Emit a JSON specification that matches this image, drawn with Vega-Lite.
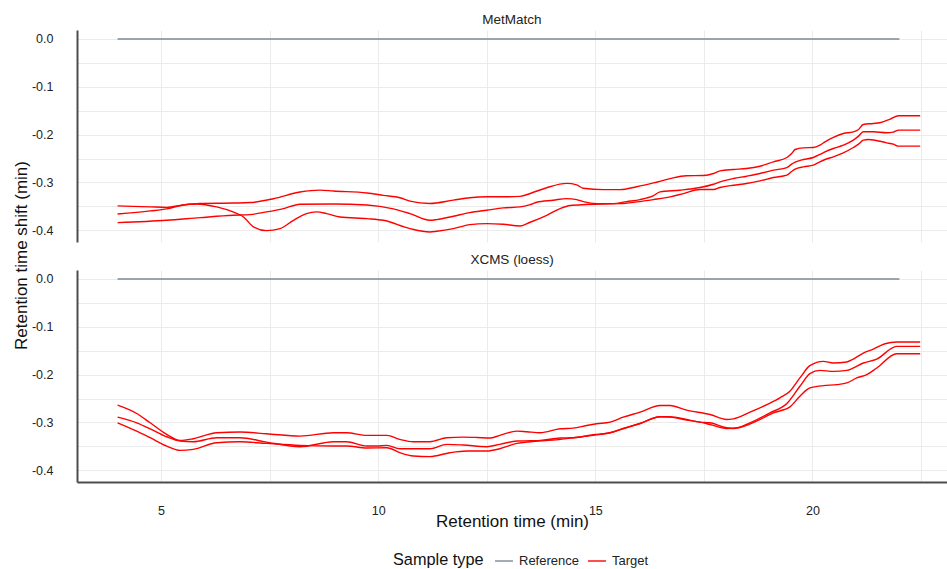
{
  "$schema": "https://vega.github.io/schema/vega-lite/v6.json",
  "padding": {"left": 12, "top": 12, "right": 0, "bottom": 0},
  "autosize": {"type": "pad"},
  "bounds": "flush",
  "spacing": 28,
  "config": {
    "font": "Liberation Sans",
    "view": {"stroke": null},
    "axis": {
      "gridColor": "#ebebeb",
      "gridWidth": 1,
      "ticks": false,
      "labelFontSize": 12.5,
      "labelColor": "#222222",
      "titleFontSize": 17,
      "titleFontWeight": "normal",
      "titleColor": "#111111",
      "domainColor": "#4d4d4d",
      "domainWidth": 2
    },
    "title": {"fontSize": 13.5, "fontWeight": "normal", "color": "#222222", "offset": 4, "anchor": "middle"},
    "line": {"interpolate": "monotone", "strokeWidth": 1.4}
  },
  "datasets": {
    "shifts": [
      {"panel": "MetMatch", "type": "Reference", "sample": "R", "rt": 4.0, "shift": 0},
      {"panel": "MetMatch", "type": "Reference", "sample": "R", "rt": 22.0, "shift": 0},
      {"panel": "XCMS (loess)", "type": "Reference", "sample": "R", "rt": 4.0, "shift": 0},
      {"panel": "XCMS (loess)", "type": "Reference", "sample": "R", "rt": 22.0, "shift": 0},

      {"panel": "MetMatch", "type": "Target", "sample": "T1", "rt": 4.0, "shift": -0.349},
      {"panel": "MetMatch", "type": "Target", "sample": "T1", "rt": 4.75, "shift": -0.351},
      {"panel": "MetMatch", "type": "Target", "sample": "T1", "rt": 5.13, "shift": -0.352},
      {"panel": "MetMatch", "type": "Target", "sample": "T1", "rt": 5.51, "shift": -0.347},
      {"panel": "MetMatch", "type": "Target", "sample": "T1", "rt": 5.9, "shift": -0.344},
      {"panel": "MetMatch", "type": "Target", "sample": "T1", "rt": 6.66, "shift": -0.343},
      {"panel": "MetMatch", "type": "Target", "sample": "T1", "rt": 7.05, "shift": -0.342},
      {"panel": "MetMatch", "type": "Target", "sample": "T1", "rt": 7.59, "shift": -0.334},
      {"panel": "MetMatch", "type": "Target", "sample": "T1", "rt": 8.2, "shift": -0.32},
      {"panel": "MetMatch", "type": "Target", "sample": "T1", "rt": 8.66, "shift": -0.316},
      {"panel": "MetMatch", "type": "Target", "sample": "T1", "rt": 8.97, "shift": -0.318},
      {"panel": "MetMatch", "type": "Target", "sample": "T1", "rt": 9.74, "shift": -0.322},
      {"panel": "MetMatch", "type": "Target", "sample": "T1", "rt": 10.12, "shift": -0.327},
      {"panel": "MetMatch", "type": "Target", "sample": "T1", "rt": 10.5, "shift": -0.332},
      {"panel": "MetMatch", "type": "Target", "sample": "T1", "rt": 10.73, "shift": -0.339},
      {"panel": "MetMatch", "type": "Target", "sample": "T1", "rt": 11.19, "shift": -0.344},
      {"panel": "MetMatch", "type": "Target", "sample": "T1", "rt": 11.73, "shift": -0.337},
      {"panel": "MetMatch", "type": "Target", "sample": "T1", "rt": 12.11, "shift": -0.332},
      {"panel": "MetMatch", "type": "Target", "sample": "T1", "rt": 12.5, "shift": -0.33},
      {"panel": "MetMatch", "type": "Target", "sample": "T1", "rt": 12.88, "shift": -0.33},
      {"panel": "MetMatch", "type": "Target", "sample": "T1", "rt": 13.27, "shift": -0.329},
      {"panel": "MetMatch", "type": "Target", "sample": "T1", "rt": 13.5, "shift": -0.323},
      {"panel": "MetMatch", "type": "Target", "sample": "T1", "rt": 13.88, "shift": -0.311},
      {"panel": "MetMatch", "type": "Target", "sample": "T1", "rt": 14.34, "shift": -0.302},
      {"panel": "MetMatch", "type": "Target", "sample": "T1", "rt": 14.57, "shift": -0.305},
      {"panel": "MetMatch", "type": "Target", "sample": "T1", "rt": 14.72, "shift": -0.312},
      {"panel": "MetMatch", "type": "Target", "sample": "T1", "rt": 15.18, "shift": -0.315},
      {"panel": "MetMatch", "type": "Target", "sample": "T1", "rt": 15.57, "shift": -0.315},
      {"panel": "MetMatch", "type": "Target", "sample": "T1", "rt": 15.95, "shift": -0.309},
      {"panel": "MetMatch", "type": "Target", "sample": "T1", "rt": 16.34, "shift": -0.301},
      {"panel": "MetMatch", "type": "Target", "sample": "T1", "rt": 16.72, "shift": -0.292},
      {"panel": "MetMatch", "type": "Target", "sample": "T1", "rt": 17.1, "shift": -0.286},
      {"panel": "MetMatch", "type": "Target", "sample": "T1", "rt": 17.49, "shift": -0.2855},
      {"panel": "MetMatch", "type": "Target", "sample": "T1", "rt": 17.72, "shift": -0.2813},
      {"panel": "MetMatch", "type": "Target", "sample": "T1", "rt": 17.87, "shift": -0.2757},
      {"panel": "MetMatch", "type": "Target", "sample": "T1", "rt": 18.18, "shift": -0.2729},
      {"panel": "MetMatch", "type": "Target", "sample": "T1", "rt": 18.48, "shift": -0.2709},
      {"panel": "MetMatch", "type": "Target", "sample": "T1", "rt": 18.79, "shift": -0.266},
      {"panel": "MetMatch", "type": "Target", "sample": "T1", "rt": 19.1, "shift": -0.2569},
      {"panel": "MetMatch", "type": "Target", "sample": "T1", "rt": 19.41, "shift": -0.2478},
      {"panel": "MetMatch", "type": "Target", "sample": "T1", "rt": 19.52, "shift": -0.2394},
      {"panel": "MetMatch", "type": "Target", "sample": "T1", "rt": 19.6, "shift": -0.2311},
      {"panel": "MetMatch", "type": "Target", "sample": "T1", "rt": 19.79, "shift": -0.2276},
      {"panel": "MetMatch", "type": "Target", "sample": "T1", "rt": 20.02, "shift": -0.2269},
      {"panel": "MetMatch", "type": "Target", "sample": "T1", "rt": 20.17, "shift": -0.222},
      {"panel": "MetMatch", "type": "Target", "sample": "T1", "rt": 20.29, "shift": -0.215},
      {"panel": "MetMatch", "type": "Target", "sample": "T1", "rt": 20.48, "shift": -0.2059},
      {"panel": "MetMatch", "type": "Target", "sample": "T1", "rt": 20.71, "shift": -0.1976},
      {"panel": "MetMatch", "type": "Target", "sample": "T1", "rt": 20.94, "shift": -0.1941},
      {"panel": "MetMatch", "type": "Target", "sample": "T1", "rt": 21.06, "shift": -0.1892},
      {"panel": "MetMatch", "type": "Target", "sample": "T1", "rt": 21.17, "shift": -0.1787},
      {"panel": "MetMatch", "type": "Target", "sample": "T1", "rt": 21.4, "shift": -0.1766},
      {"panel": "MetMatch", "type": "Target", "sample": "T1", "rt": 21.55, "shift": -0.1752},
      {"panel": "MetMatch", "type": "Target", "sample": "T1", "rt": 21.79, "shift": -0.1675},
      {"panel": "MetMatch", "type": "Target", "sample": "T1", "rt": 21.98, "shift": -0.1606},
      {"panel": "MetMatch", "type": "Target", "sample": "T1", "rt": 22.48, "shift": -0.1606},

      {"panel": "MetMatch", "type": "Target", "sample": "T2", "rt": 4.0, "shift": -0.384},
      {"panel": "MetMatch", "type": "Target", "sample": "T2", "rt": 5.13, "shift": -0.379},
      {"panel": "MetMatch", "type": "Target", "sample": "T2", "rt": 5.9, "shift": -0.3735},
      {"panel": "MetMatch", "type": "Target", "sample": "T2", "rt": 6.66, "shift": -0.3686},
      {"panel": "MetMatch", "type": "Target", "sample": "T2", "rt": 7.05, "shift": -0.3672},
      {"panel": "MetMatch", "type": "Target", "sample": "T2", "rt": 7.43, "shift": -0.3616},
      {"panel": "MetMatch", "type": "Target", "sample": "T2", "rt": 7.82, "shift": -0.3546},
      {"panel": "MetMatch", "type": "Target", "sample": "T2", "rt": 8.2, "shift": -0.3455},
      {"panel": "MetMatch", "type": "Target", "sample": "T2", "rt": 8.97, "shift": -0.3449},
      {"panel": "MetMatch", "type": "Target", "sample": "T2", "rt": 9.74, "shift": -0.347},
      {"panel": "MetMatch", "type": "Target", "sample": "T2", "rt": 10.35, "shift": -0.3553},
      {"panel": "MetMatch", "type": "Target", "sample": "T2", "rt": 10.73, "shift": -0.3651},
      {"panel": "MetMatch", "type": "Target", "sample": "T2", "rt": 11.19, "shift": -0.3791},
      {"panel": "MetMatch", "type": "Target", "sample": "T2", "rt": 11.35, "shift": -0.3777},
      {"panel": "MetMatch", "type": "Target", "sample": "T2", "rt": 11.73, "shift": -0.3707},
      {"panel": "MetMatch", "type": "Target", "sample": "T2", "rt": 12.11, "shift": -0.363},
      {"panel": "MetMatch", "type": "Target", "sample": "T2", "rt": 12.5, "shift": -0.3581},
      {"panel": "MetMatch", "type": "Target", "sample": "T2", "rt": 12.88, "shift": -0.3532},
      {"panel": "MetMatch", "type": "Target", "sample": "T2", "rt": 13.27, "shift": -0.3511},
      {"panel": "MetMatch", "type": "Target", "sample": "T2", "rt": 13.5, "shift": -0.3462},
      {"panel": "MetMatch", "type": "Target", "sample": "T2", "rt": 13.65, "shift": -0.3414},
      {"panel": "MetMatch", "type": "Target", "sample": "T2", "rt": 14.03, "shift": -0.3372},
      {"panel": "MetMatch", "type": "Target", "sample": "T2", "rt": 14.34, "shift": -0.3337},
      {"panel": "MetMatch", "type": "Target", "sample": "T2", "rt": 14.57, "shift": -0.3358},
      {"panel": "MetMatch", "type": "Target", "sample": "T2", "rt": 14.72, "shift": -0.34},
      {"panel": "MetMatch", "type": "Target", "sample": "T2", "rt": 15.03, "shift": -0.3442},
      {"panel": "MetMatch", "type": "Target", "sample": "T2", "rt": 15.41, "shift": -0.3442},
      {"panel": "MetMatch", "type": "Target", "sample": "T2", "rt": 15.72, "shift": -0.34},
      {"panel": "MetMatch", "type": "Target", "sample": "T2", "rt": 16.03, "shift": -0.3358},
      {"panel": "MetMatch", "type": "Target", "sample": "T2", "rt": 16.34, "shift": -0.3274},
      {"panel": "MetMatch", "type": "Target", "sample": "T2", "rt": 16.49, "shift": -0.3197},
      {"panel": "MetMatch", "type": "Target", "sample": "T2", "rt": 16.95, "shift": -0.3162},
      {"panel": "MetMatch", "type": "Target", "sample": "T2", "rt": 17.41, "shift": -0.3106},
      {"panel": "MetMatch", "type": "Target", "sample": "T2", "rt": 17.72, "shift": -0.3037},
      {"panel": "MetMatch", "type": "Target", "sample": "T2", "rt": 17.87, "shift": -0.2988},
      {"panel": "MetMatch", "type": "Target", "sample": "T2", "rt": 18.18, "shift": -0.2918},
      {"panel": "MetMatch", "type": "Target", "sample": "T2", "rt": 18.48, "shift": -0.2869},
      {"panel": "MetMatch", "type": "Target", "sample": "T2", "rt": 18.79, "shift": -0.2813},
      {"panel": "MetMatch", "type": "Target", "sample": "T2", "rt": 19.1, "shift": -0.2743},
      {"panel": "MetMatch", "type": "Target", "sample": "T2", "rt": 19.41, "shift": -0.2688},
      {"panel": "MetMatch", "type": "Target", "sample": "T2", "rt": 19.52, "shift": -0.2618},
      {"panel": "MetMatch", "type": "Target", "sample": "T2", "rt": 19.6, "shift": -0.2576},
      {"panel": "MetMatch", "type": "Target", "sample": "T2", "rt": 19.79, "shift": -0.252},
      {"panel": "MetMatch", "type": "Target", "sample": "T2", "rt": 20.02, "shift": -0.2478},
      {"panel": "MetMatch", "type": "Target", "sample": "T2", "rt": 20.17, "shift": -0.2415},
      {"panel": "MetMatch", "type": "Target", "sample": "T2", "rt": 20.29, "shift": -0.236},
      {"panel": "MetMatch", "type": "Target", "sample": "T2", "rt": 20.48, "shift": -0.229},
      {"panel": "MetMatch", "type": "Target", "sample": "T2", "rt": 20.71, "shift": -0.222},
      {"panel": "MetMatch", "type": "Target", "sample": "T2", "rt": 20.94, "shift": -0.2115},
      {"panel": "MetMatch", "type": "Target", "sample": "T2", "rt": 21.06, "shift": -0.2031},
      {"panel": "MetMatch", "type": "Target", "sample": "T2", "rt": 21.17, "shift": -0.1941},
      {"panel": "MetMatch", "type": "Target", "sample": "T2", "rt": 21.4, "shift": -0.1941},
      {"panel": "MetMatch", "type": "Target", "sample": "T2", "rt": 21.71, "shift": -0.1962},
      {"panel": "MetMatch", "type": "Target", "sample": "T2", "rt": 21.86, "shift": -0.1948},
      {"panel": "MetMatch", "type": "Target", "sample": "T2", "rt": 21.98, "shift": -0.1906},
      {"panel": "MetMatch", "type": "Target", "sample": "T2", "rt": 22.48, "shift": -0.1906},

      {"panel": "MetMatch", "type": "Target", "sample": "T3", "rt": 4.0, "shift": -0.366},
      {"panel": "MetMatch", "type": "Target", "sample": "T3", "rt": 4.75, "shift": -0.3595},
      {"panel": "MetMatch", "type": "Target", "sample": "T3", "rt": 5.13, "shift": -0.3553},
      {"panel": "MetMatch", "type": "Target", "sample": "T3", "rt": 5.51, "shift": -0.347},
      {"panel": "MetMatch", "type": "Target", "sample": "T3", "rt": 5.82, "shift": -0.3449},
      {"panel": "MetMatch", "type": "Target", "sample": "T3", "rt": 6.28, "shift": -0.3511},
      {"panel": "MetMatch", "type": "Target", "sample": "T3", "rt": 6.66, "shift": -0.3616},
      {"panel": "MetMatch", "type": "Target", "sample": "T3", "rt": 6.9, "shift": -0.3721},
      {"panel": "MetMatch", "type": "Target", "sample": "T3", "rt": 7.13, "shift": -0.393},
      {"panel": "MetMatch", "type": "Target", "sample": "T3", "rt": 7.43, "shift": -0.4007},
      {"panel": "MetMatch", "type": "Target", "sample": "T3", "rt": 7.74, "shift": -0.3965},
      {"panel": "MetMatch", "type": "Target", "sample": "T3", "rt": 8.05, "shift": -0.3791},
      {"panel": "MetMatch", "type": "Target", "sample": "T3", "rt": 8.35, "shift": -0.3651},
      {"panel": "MetMatch", "type": "Target", "sample": "T3", "rt": 8.58, "shift": -0.3616},
      {"panel": "MetMatch", "type": "Target", "sample": "T3", "rt": 8.81, "shift": -0.3651},
      {"panel": "MetMatch", "type": "Target", "sample": "T3", "rt": 9.12, "shift": -0.3721},
      {"panel": "MetMatch", "type": "Target", "sample": "T3", "rt": 9.74, "shift": -0.3756},
      {"panel": "MetMatch", "type": "Target", "sample": "T3", "rt": 10.12, "shift": -0.3791},
      {"panel": "MetMatch", "type": "Target", "sample": "T3", "rt": 10.73, "shift": -0.3965},
      {"panel": "MetMatch", "type": "Target", "sample": "T3", "rt": 11.19, "shift": -0.4035},
      {"panel": "MetMatch", "type": "Target", "sample": "T3", "rt": 11.35, "shift": -0.4021},
      {"panel": "MetMatch", "type": "Target", "sample": "T3", "rt": 11.73, "shift": -0.3965},
      {"panel": "MetMatch", "type": "Target", "sample": "T3", "rt": 12.11, "shift": -0.3881},
      {"panel": "MetMatch", "type": "Target", "sample": "T3", "rt": 12.5, "shift": -0.386},
      {"panel": "MetMatch", "type": "Target", "sample": "T3", "rt": 12.88, "shift": -0.3874},
      {"panel": "MetMatch", "type": "Target", "sample": "T3", "rt": 13.27, "shift": -0.3909},
      {"panel": "MetMatch", "type": "Target", "sample": "T3", "rt": 13.5, "shift": -0.3832},
      {"panel": "MetMatch", "type": "Target", "sample": "T3", "rt": 13.88, "shift": -0.3686},
      {"panel": "MetMatch", "type": "Target", "sample": "T3", "rt": 14.19, "shift": -0.3546},
      {"panel": "MetMatch", "type": "Target", "sample": "T3", "rt": 14.42, "shift": -0.3483},
      {"panel": "MetMatch", "type": "Target", "sample": "T3", "rt": 14.8, "shift": -0.3462},
      {"panel": "MetMatch", "type": "Target", "sample": "T3", "rt": 15.18, "shift": -0.3449},
      {"panel": "MetMatch", "type": "Target", "sample": "T3", "rt": 15.57, "shift": -0.3442},
      {"panel": "MetMatch", "type": "Target", "sample": "T3", "rt": 15.95, "shift": -0.3407},
      {"panel": "MetMatch", "type": "Target", "sample": "T3", "rt": 16.34, "shift": -0.3358},
      {"panel": "MetMatch", "type": "Target", "sample": "T3", "rt": 16.72, "shift": -0.3302},
      {"panel": "MetMatch", "type": "Target", "sample": "T3", "rt": 17.03, "shift": -0.3232},
      {"panel": "MetMatch", "type": "Target", "sample": "T3", "rt": 17.41, "shift": -0.3148},
      {"panel": "MetMatch", "type": "Target", "sample": "T3", "rt": 17.72, "shift": -0.3148},
      {"panel": "MetMatch", "type": "Target", "sample": "T3", "rt": 17.87, "shift": -0.3106},
      {"panel": "MetMatch", "type": "Target", "sample": "T3", "rt": 18.18, "shift": -0.3058},
      {"panel": "MetMatch", "type": "Target", "sample": "T3", "rt": 18.48, "shift": -0.3023},
      {"panel": "MetMatch", "type": "Target", "sample": "T3", "rt": 18.79, "shift": -0.2967},
      {"panel": "MetMatch", "type": "Target", "sample": "T3", "rt": 19.1, "shift": -0.2897},
      {"panel": "MetMatch", "type": "Target", "sample": "T3", "rt": 19.41, "shift": -0.2848},
      {"panel": "MetMatch", "type": "Target", "sample": "T3", "rt": 19.52, "shift": -0.2771},
      {"panel": "MetMatch", "type": "Target", "sample": "T3", "rt": 19.6, "shift": -0.2723},
      {"panel": "MetMatch", "type": "Target", "sample": "T3", "rt": 19.79, "shift": -0.2674},
      {"panel": "MetMatch", "type": "Target", "sample": "T3", "rt": 20.02, "shift": -0.2639},
      {"panel": "MetMatch", "type": "Target", "sample": "T3", "rt": 20.17, "shift": -0.2569},
      {"panel": "MetMatch", "type": "Target", "sample": "T3", "rt": 20.29, "shift": -0.252},
      {"panel": "MetMatch", "type": "Target", "sample": "T3", "rt": 20.48, "shift": -0.2464},
      {"panel": "MetMatch", "type": "Target", "sample": "T3", "rt": 20.71, "shift": -0.2381},
      {"panel": "MetMatch", "type": "Target", "sample": "T3", "rt": 20.94, "shift": -0.2269},
      {"panel": "MetMatch", "type": "Target", "sample": "T3", "rt": 21.06, "shift": -0.2199},
      {"panel": "MetMatch", "type": "Target", "sample": "T3", "rt": 21.17, "shift": -0.2115},
      {"panel": "MetMatch", "type": "Target", "sample": "T3", "rt": 21.29, "shift": -0.2101},
      {"panel": "MetMatch", "type": "Target", "sample": "T3", "rt": 21.71, "shift": -0.2171},
      {"panel": "MetMatch", "type": "Target", "sample": "T3", "rt": 21.86, "shift": -0.2199},
      {"panel": "MetMatch", "type": "Target", "sample": "T3", "rt": 21.98, "shift": -0.2241},
      {"panel": "MetMatch", "type": "Target", "sample": "T3", "rt": 22.48, "shift": -0.2241},

      {"panel": "XCMS (loess)", "type": "Target", "sample": "T1", "rt": 4.0, "shift": -0.2639},
      {"panel": "XCMS (loess)", "type": "Target", "sample": "T1", "rt": 4.44, "shift": -0.2813},
      {"panel": "XCMS (loess)", "type": "Target", "sample": "T1", "rt": 4.75, "shift": -0.3007},
      {"panel": "XCMS (loess)", "type": "Target", "sample": "T1", "rt": 5.13, "shift": -0.325},
      {"panel": "XCMS (loess)", "type": "Target", "sample": "T1", "rt": 5.44, "shift": -0.3375},
      {"panel": "XCMS (loess)", "type": "Target", "sample": "T1", "rt": 5.74, "shift": -0.334},
      {"panel": "XCMS (loess)", "type": "Target", "sample": "T1", "rt": 6.28, "shift": -0.3215},
      {"panel": "XCMS (loess)", "type": "Target", "sample": "T1", "rt": 6.82, "shift": -0.3201},
      {"panel": "XCMS (loess)", "type": "Target", "sample": "T1", "rt": 7.43, "shift": -0.3236},
      {"panel": "XCMS (loess)", "type": "Target", "sample": "T1", "rt": 8.2, "shift": -0.3285},
      {"panel": "XCMS (loess)", "type": "Target", "sample": "T1", "rt": 8.97, "shift": -0.3215},
      {"panel": "XCMS (loess)", "type": "Target", "sample": "T1", "rt": 9.27, "shift": -0.3215},
      {"panel": "XCMS (loess)", "type": "Target", "sample": "T1", "rt": 9.74, "shift": -0.3271},
      {"panel": "XCMS (loess)", "type": "Target", "sample": "T1", "rt": 10.2, "shift": -0.3271},
      {"panel": "XCMS (loess)", "type": "Target", "sample": "T1", "rt": 10.5, "shift": -0.3354},
      {"panel": "XCMS (loess)", "type": "Target", "sample": "T1", "rt": 10.81, "shift": -0.3403},
      {"panel": "XCMS (loess)", "type": "Target", "sample": "T1", "rt": 11.19, "shift": -0.3403},
      {"panel": "XCMS (loess)", "type": "Target", "sample": "T1", "rt": 11.58, "shift": -0.3319},
      {"panel": "XCMS (loess)", "type": "Target", "sample": "T1", "rt": 11.96, "shift": -0.3306},
      {"panel": "XCMS (loess)", "type": "Target", "sample": "T1", "rt": 12.27, "shift": -0.3313},
      {"panel": "XCMS (loess)", "type": "Target", "sample": "T1", "rt": 12.57, "shift": -0.3326},
      {"panel": "XCMS (loess)", "type": "Target", "sample": "T1", "rt": 12.8, "shift": -0.3271},
      {"panel": "XCMS (loess)", "type": "Target", "sample": "T1", "rt": 13.19, "shift": -0.3181},
      {"panel": "XCMS (loess)", "type": "Target", "sample": "T1", "rt": 13.42, "shift": -0.3194},
      {"panel": "XCMS (loess)", "type": "Target", "sample": "T1", "rt": 13.73, "shift": -0.3215},
      {"panel": "XCMS (loess)", "type": "Target", "sample": "T1", "rt": 14.19, "shift": -0.3132},
      {"panel": "XCMS (loess)", "type": "Target", "sample": "T1", "rt": 14.49, "shift": -0.3118},
      {"panel": "XCMS (loess)", "type": "Target", "sample": "T1", "rt": 14.8, "shift": -0.3063},
      {"panel": "XCMS (loess)", "type": "Target", "sample": "T1", "rt": 15.03, "shift": -0.3028},
      {"panel": "XCMS (loess)", "type": "Target", "sample": "T1", "rt": 15.34, "shift": -0.2993},
      {"panel": "XCMS (loess)", "type": "Target", "sample": "T1", "rt": 15.64, "shift": -0.2889},
      {"panel": "XCMS (loess)", "type": "Target", "sample": "T1", "rt": 16.03, "shift": -0.2785},
      {"panel": "XCMS (loess)", "type": "Target", "sample": "T1", "rt": 16.49, "shift": -0.2646},
      {"panel": "XCMS (loess)", "type": "Target", "sample": "T1", "rt": 16.72, "shift": -0.2646},
      {"panel": "XCMS (loess)", "type": "Target", "sample": "T1", "rt": 17.1, "shift": -0.2743},
      {"panel": "XCMS (loess)", "type": "Target", "sample": "T1", "rt": 17.64, "shift": -0.2833},
      {"panel": "XCMS (loess)", "type": "Target", "sample": "T1", "rt": 18.02, "shift": -0.2938},
      {"panel": "XCMS (loess)", "type": "Target", "sample": "T1", "rt": 18.18, "shift": -0.2924},
      {"panel": "XCMS (loess)", "type": "Target", "sample": "T1", "rt": 18.56, "shift": -0.2785},
      {"panel": "XCMS (loess)", "type": "Target", "sample": "T1", "rt": 18.95, "shift": -0.2625},
      {"panel": "XCMS (loess)", "type": "Target", "sample": "T1", "rt": 19.25, "shift": -0.2486},
      {"panel": "XCMS (loess)", "type": "Target", "sample": "T1", "rt": 19.48, "shift": -0.2347},
      {"panel": "XCMS (loess)", "type": "Target", "sample": "T1", "rt": 19.71, "shift": -0.2069},
      {"panel": "XCMS (loess)", "type": "Target", "sample": "T1", "rt": 19.94, "shift": -0.1813},
      {"panel": "XCMS (loess)", "type": "Target", "sample": "T1", "rt": 20.25, "shift": -0.1722},
      {"panel": "XCMS (loess)", "type": "Target", "sample": "T1", "rt": 20.48, "shift": -0.1757},
      {"panel": "XCMS (loess)", "type": "Target", "sample": "T1", "rt": 20.79, "shift": -0.1736},
      {"panel": "XCMS (loess)", "type": "Target", "sample": "T1", "rt": 20.94, "shift": -0.1674},
      {"panel": "XCMS (loess)", "type": "Target", "sample": "T1", "rt": 21.17, "shift": -0.1549},
      {"panel": "XCMS (loess)", "type": "Target", "sample": "T1", "rt": 21.4, "shift": -0.1465},
      {"panel": "XCMS (loess)", "type": "Target", "sample": "T1", "rt": 21.67, "shift": -0.1354},
      {"panel": "XCMS (loess)", "type": "Target", "sample": "T1", "rt": 21.94, "shift": -0.1319},
      {"panel": "XCMS (loess)", "type": "Target", "sample": "T1", "rt": 22.48, "shift": -0.1319},

      {"panel": "XCMS (loess)", "type": "Target", "sample": "T2", "rt": 4.0, "shift": -0.2889},
      {"panel": "XCMS (loess)", "type": "Target", "sample": "T2", "rt": 4.44, "shift": -0.3007},
      {"panel": "XCMS (loess)", "type": "Target", "sample": "T2", "rt": 4.75, "shift": -0.3132},
      {"panel": "XCMS (loess)", "type": "Target", "sample": "T2", "rt": 5.13, "shift": -0.3299},
      {"panel": "XCMS (loess)", "type": "Target", "sample": "T2", "rt": 5.44, "shift": -0.3389},
      {"panel": "XCMS (loess)", "type": "Target", "sample": "T2", "rt": 5.74, "shift": -0.3403},
      {"panel": "XCMS (loess)", "type": "Target", "sample": "T2", "rt": 6.28, "shift": -0.3319},
      {"panel": "XCMS (loess)", "type": "Target", "sample": "T2", "rt": 6.82, "shift": -0.3319},
      {"panel": "XCMS (loess)", "type": "Target", "sample": "T2", "rt": 7.43, "shift": -0.341},
      {"panel": "XCMS (loess)", "type": "Target", "sample": "T2", "rt": 8.2, "shift": -0.3507},
      {"panel": "XCMS (loess)", "type": "Target", "sample": "T2", "rt": 8.97, "shift": -0.3403},
      {"panel": "XCMS (loess)", "type": "Target", "sample": "T2", "rt": 9.27, "shift": -0.3403},
      {"panel": "XCMS (loess)", "type": "Target", "sample": "T2", "rt": 9.74, "shift": -0.3493},
      {"panel": "XCMS (loess)", "type": "Target", "sample": "T2", "rt": 9.97, "shift": -0.3493},
      {"panel": "XCMS (loess)", "type": "Target", "sample": "T2", "rt": 10.2, "shift": -0.3479},
      {"panel": "XCMS (loess)", "type": "Target", "sample": "T2", "rt": 10.5, "shift": -0.3549},
      {"panel": "XCMS (loess)", "type": "Target", "sample": "T2", "rt": 11.19, "shift": -0.3549},
      {"panel": "XCMS (loess)", "type": "Target", "sample": "T2", "rt": 11.58, "shift": -0.3458},
      {"panel": "XCMS (loess)", "type": "Target", "sample": "T2", "rt": 11.96, "shift": -0.3472},
      {"panel": "XCMS (loess)", "type": "Target", "sample": "T2", "rt": 12.5, "shift": -0.3507},
      {"panel": "XCMS (loess)", "type": "Target", "sample": "T2", "rt": 12.8, "shift": -0.3458},
      {"panel": "XCMS (loess)", "type": "Target", "sample": "T2", "rt": 13.19, "shift": -0.3389},
      {"panel": "XCMS (loess)", "type": "Target", "sample": "T2", "rt": 13.5, "shift": -0.3382},
      {"panel": "XCMS (loess)", "type": "Target", "sample": "T2", "rt": 13.73, "shift": -0.3375},
      {"panel": "XCMS (loess)", "type": "Target", "sample": "T2", "rt": 14.19, "shift": -0.3326},
      {"panel": "XCMS (loess)", "type": "Target", "sample": "T2", "rt": 14.49, "shift": -0.3319},
      {"panel": "XCMS (loess)", "type": "Target", "sample": "T2", "rt": 14.95, "shift": -0.3257},
      {"panel": "XCMS (loess)", "type": "Target", "sample": "T2", "rt": 15.34, "shift": -0.3215},
      {"panel": "XCMS (loess)", "type": "Target", "sample": "T2", "rt": 15.64, "shift": -0.3125},
      {"panel": "XCMS (loess)", "type": "Target", "sample": "T2", "rt": 16.03, "shift": -0.3021},
      {"panel": "XCMS (loess)", "type": "Target", "sample": "T2", "rt": 16.49, "shift": -0.2882},
      {"panel": "XCMS (loess)", "type": "Target", "sample": "T2", "rt": 16.72, "shift": -0.2882},
      {"panel": "XCMS (loess)", "type": "Target", "sample": "T2", "rt": 17.1, "shift": -0.2938},
      {"panel": "XCMS (loess)", "type": "Target", "sample": "T2", "rt": 17.41, "shift": -0.2993},
      {"panel": "XCMS (loess)", "type": "Target", "sample": "T2", "rt": 17.64, "shift": -0.3007},
      {"panel": "XCMS (loess)", "type": "Target", "sample": "T2", "rt": 18.02, "shift": -0.3111},
      {"panel": "XCMS (loess)", "type": "Target", "sample": "T2", "rt": 18.18, "shift": -0.3125},
      {"panel": "XCMS (loess)", "type": "Target", "sample": "T2", "rt": 18.56, "shift": -0.3007},
      {"panel": "XCMS (loess)", "type": "Target", "sample": "T2", "rt": 19.02, "shift": -0.2799},
      {"panel": "XCMS (loess)", "type": "Target", "sample": "T2", "rt": 19.41, "shift": -0.2604},
      {"panel": "XCMS (loess)", "type": "Target", "sample": "T2", "rt": 19.71, "shift": -0.2243},
      {"panel": "XCMS (loess)", "type": "Target", "sample": "T2", "rt": 19.94, "shift": -0.1979},
      {"panel": "XCMS (loess)", "type": "Target", "sample": "T2", "rt": 20.17, "shift": -0.191},
      {"panel": "XCMS (loess)", "type": "Target", "sample": "T2", "rt": 20.48, "shift": -0.1931},
      {"panel": "XCMS (loess)", "type": "Target", "sample": "T2", "rt": 20.79, "shift": -0.191},
      {"panel": "XCMS (loess)", "type": "Target", "sample": "T2", "rt": 21.17, "shift": -0.1757},
      {"panel": "XCMS (loess)", "type": "Target", "sample": "T2", "rt": 21.48, "shift": -0.1674},
      {"panel": "XCMS (loess)", "type": "Target", "sample": "T2", "rt": 21.94, "shift": -0.141},
      {"panel": "XCMS (loess)", "type": "Target", "sample": "T2", "rt": 22.48, "shift": -0.141},

      {"panel": "XCMS (loess)", "type": "Target", "sample": "T3", "rt": 4.0, "shift": -0.3007},
      {"panel": "XCMS (loess)", "type": "Target", "sample": "T3", "rt": 4.44, "shift": -0.3181},
      {"panel": "XCMS (loess)", "type": "Target", "sample": "T3", "rt": 4.75, "shift": -0.3319},
      {"panel": "XCMS (loess)", "type": "Target", "sample": "T3", "rt": 5.13, "shift": -0.3493},
      {"panel": "XCMS (loess)", "type": "Target", "sample": "T3", "rt": 5.44, "shift": -0.3583},
      {"panel": "XCMS (loess)", "type": "Target", "sample": "T3", "rt": 5.74, "shift": -0.3563},
      {"panel": "XCMS (loess)", "type": "Target", "sample": "T3", "rt": 6.28, "shift": -0.3424},
      {"panel": "XCMS (loess)", "type": "Target", "sample": "T3", "rt": 6.82, "shift": -0.3403},
      {"panel": "XCMS (loess)", "type": "Target", "sample": "T3", "rt": 7.43, "shift": -0.3438},
      {"panel": "XCMS (loess)", "type": "Target", "sample": "T3", "rt": 8.2, "shift": -0.3479},
      {"panel": "XCMS (loess)", "type": "Target", "sample": "T3", "rt": 8.97, "shift": -0.3493},
      {"panel": "XCMS (loess)", "type": "Target", "sample": "T3", "rt": 9.27, "shift": -0.3493},
      {"panel": "XCMS (loess)", "type": "Target", "sample": "T3", "rt": 9.74, "shift": -0.3535},
      {"panel": "XCMS (loess)", "type": "Target", "sample": "T3", "rt": 10.2, "shift": -0.3528},
      {"panel": "XCMS (loess)", "type": "Target", "sample": "T3", "rt": 10.5, "shift": -0.3632},
      {"panel": "XCMS (loess)", "type": "Target", "sample": "T3", "rt": 10.81, "shift": -0.3701},
      {"panel": "XCMS (loess)", "type": "Target", "sample": "T3", "rt": 11.19, "shift": -0.3715},
      {"panel": "XCMS (loess)", "type": "Target", "sample": "T3", "rt": 11.65, "shift": -0.3632},
      {"panel": "XCMS (loess)", "type": "Target", "sample": "T3", "rt": 12.04, "shift": -0.3597},
      {"panel": "XCMS (loess)", "type": "Target", "sample": "T3", "rt": 12.5, "shift": -0.3597},
      {"panel": "XCMS (loess)", "type": "Target", "sample": "T3", "rt": 12.8, "shift": -0.3549},
      {"panel": "XCMS (loess)", "type": "Target", "sample": "T3", "rt": 13.19, "shift": -0.3438},
      {"panel": "XCMS (loess)", "type": "Target", "sample": "T3", "rt": 13.5, "shift": -0.3403},
      {"panel": "XCMS (loess)", "type": "Target", "sample": "T3", "rt": 14.03, "shift": -0.3368},
      {"panel": "XCMS (loess)", "type": "Target", "sample": "T3", "rt": 14.49, "shift": -0.3319},
      {"panel": "XCMS (loess)", "type": "Target", "sample": "T3", "rt": 14.95, "shift": -0.3271},
      {"panel": "XCMS (loess)", "type": "Target", "sample": "T3", "rt": 15.34, "shift": -0.3215},
      {"panel": "XCMS (loess)", "type": "Target", "sample": "T3", "rt": 15.64, "shift": -0.3132},
      {"panel": "XCMS (loess)", "type": "Target", "sample": "T3", "rt": 16.03, "shift": -0.3021},
      {"panel": "XCMS (loess)", "type": "Target", "sample": "T3", "rt": 16.49, "shift": -0.2882},
      {"panel": "XCMS (loess)", "type": "Target", "sample": "T3", "rt": 16.72, "shift": -0.2889},
      {"panel": "XCMS (loess)", "type": "Target", "sample": "T3", "rt": 17.1, "shift": -0.2951},
      {"panel": "XCMS (loess)", "type": "Target", "sample": "T3", "rt": 17.41, "shift": -0.2993},
      {"panel": "XCMS (loess)", "type": "Target", "sample": "T3", "rt": 17.64, "shift": -0.3042},
      {"panel": "XCMS (loess)", "type": "Target", "sample": "T3", "rt": 18.02, "shift": -0.3125},
      {"panel": "XCMS (loess)", "type": "Target", "sample": "T3", "rt": 18.33, "shift": -0.3104},
      {"panel": "XCMS (loess)", "type": "Target", "sample": "T3", "rt": 18.71, "shift": -0.2972},
      {"panel": "XCMS (loess)", "type": "Target", "sample": "T3", "rt": 19.1, "shift": -0.2799},
      {"panel": "XCMS (loess)", "type": "Target", "sample": "T3", "rt": 19.48, "shift": -0.2674},
      {"panel": "XCMS (loess)", "type": "Target", "sample": "T3", "rt": 19.71, "shift": -0.2451},
      {"panel": "XCMS (loess)", "type": "Target", "sample": "T3", "rt": 19.94, "shift": -0.2278},
      {"panel": "XCMS (loess)", "type": "Target", "sample": "T3", "rt": 20.25, "shift": -0.2229},
      {"panel": "XCMS (loess)", "type": "Target", "sample": "T3", "rt": 20.56, "shift": -0.2208},
      {"panel": "XCMS (loess)", "type": "Target", "sample": "T3", "rt": 20.79, "shift": -0.2174},
      {"panel": "XCMS (loess)", "type": "Target", "sample": "T3", "rt": 21.02, "shift": -0.2069},
      {"panel": "XCMS (loess)", "type": "Target", "sample": "T3", "rt": 21.25, "shift": -0.2},
      {"panel": "XCMS (loess)", "type": "Target", "sample": "T3", "rt": 21.48, "shift": -0.1861},
      {"panel": "XCMS (loess)", "type": "Target", "sample": "T3", "rt": 21.94, "shift": -0.1563},
      {"panel": "XCMS (loess)", "type": "Target", "sample": "T3", "rt": 22.48, "shift": -0.1563}
    ]
  },
  "data": {"name": "shifts"},
  "vconcat": [
    {
      "title": {"text": "MetMatch"},
      "width": 870,
      "height": 212,
      "transform": [{"filter": "datum.panel === 'MetMatch'"}],
      "mark": {"type": "line"},
      "encoding": {
        "x": {
          "field": "rt", "type": "quantitative",
          "scale": {"domain": [3.065, 23.097], "nice": false, "zero": false},
          "axis": {"values": [5, 7.5, 10, 12.5, 15, 17.5, 20, 22.5], "labels": false, "domain": false, "title": null, "grid": true}
        },
        "y": {
          "field": "shift", "type": "quantitative",
          "scale": {"domain": [-0.4245, 0.0188], "nice": false, "zero": false},
          "axis": {
            "values": [0, -0.05, -0.1, -0.15, -0.2, -0.25, -0.3, -0.35, -0.4],
            "format": ".1f",
            "labelExpr": "round(datum.value * 20) % 2 == 0 ? replace(datum.label, '\u2212', '-') : ''",
            "labelPadding": 24,
            "title": "Retention time shift (min)",
            "titlePadding": 1,
            "titleY": 225
          }
        },
        "color": {
          "field": "type", "type": "nominal",
          "scale": {"domain": ["Reference", "Target"], "range": ["#7b8a9a", "#ff0000"]},
          "legend": {
            "title": "Sample type", "orient": "none", "legendX": 316, "legendY": 521,
            "direction": "horizontal", "titleOrient": "left", "titleFontSize": 16.3, "titleFontWeight": "normal",
            "titleColor": "#111111", "titlePadding": 10, "labelFontSize": 13, "labelColor": "#222222",
            "symbolType": "stroke", "symbolSize": 324, "symbolStrokeWidth": 1.5, "labelOffset": 5, "columnPadding": 6
          }
        },
        "detail": {"field": "sample", "type": "nominal"}
      }
    },
    {
      "title": {"text": "XCMS (loess)"},
      "width": 870,
      "height": 212,
      "transform": [{"filter": "datum.panel === 'XCMS (loess)'"}],
      "mark": {"type": "line"},
      "encoding": {
        "x": {
          "field": "rt", "type": "quantitative",
          "scale": {"domain": [3.065, 23.097], "nice": false, "zero": false},
          "axis": {
            "values": [5, 7.5, 10, 12.5, 15, 17.5, 20, 22.5],
            "format": "d",
            "labelExpr": "datum.value % 5 == 0 ? datum.label : ''",
            "labelPadding": 22,
            "title": "Retention time (min)",
            "titlePadding": -3
          }
        },
        "y": {
          "field": "shift", "type": "quantitative",
          "scale": {"domain": [-0.4245, 0.0188], "nice": false, "zero": false},
          "axis": {
            "values": [0, -0.05, -0.1, -0.15, -0.2, -0.25, -0.3, -0.35, -0.4],
            "format": ".1f",
            "labelExpr": "round(datum.value * 20) % 2 == 0 ? replace(datum.label, '\u2212', '-') : ''",
            "labelPadding": 24,
            "title": null
          }
        },
        "color": {
          "field": "type", "type": "nominal",
          "scale": {"domain": ["Reference", "Target"], "range": ["#7b8a9a", "#ff0000"]}
        },
        "detail": {"field": "sample", "type": "nominal"}
      }
    }
  ],
  "resolve": {"scale": {"x": "shared", "y": "shared", "color": "shared"}}
}
